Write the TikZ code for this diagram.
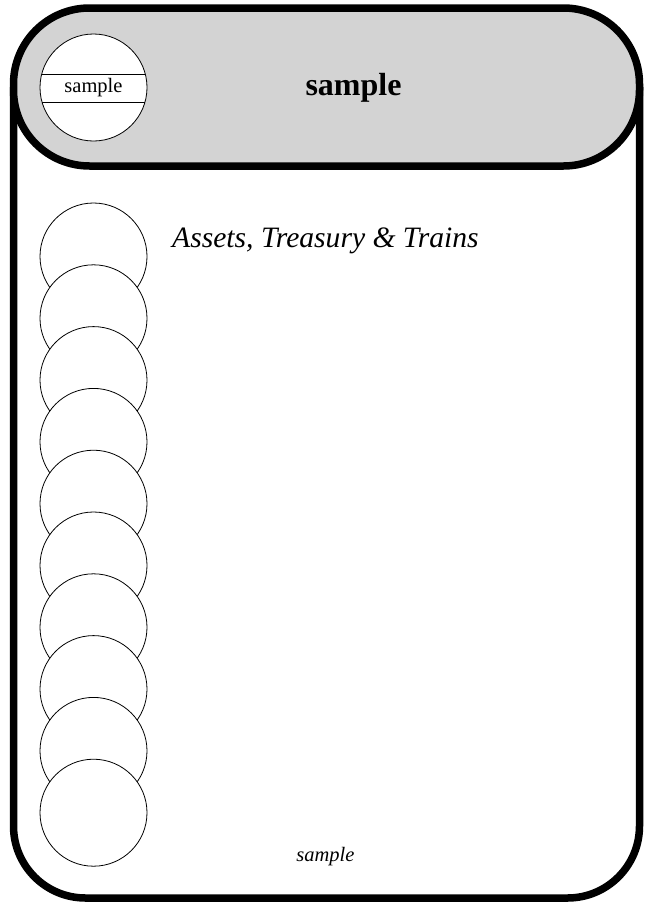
\documentclass[tikz,border=0pt]{standalone}
\usepackage{fontspec}
\setmainfont{Liberation Serif}
\usepackage{tikz}
\usetikzlibrary{positioning,calc}
\definecolor{hdrgrey}{HTML}{D3D3D3}
\tikzset{
  frame/.style={draw=black, line width=7.5pt},
  hdr/.style={frame, fill=hdrgrey, rounded corners=76pt},
  coin/.style={circle, draw=black, fill=white, line width=0.8pt,
               minimum size=107pt, inner sep=0pt},
  band/.style={rectangle, draw=black, line width=0.8pt, minimum width=120pt,
               minimum height=28pt, inner sep=0pt, font=\fontsize{20.5}{24}\selectfont},
  ttl/.style={font=\fontsize{32}{36}\selectfont\bfseries, inner sep=0pt},
  sub/.style={font=\fontsize{29.6}{34}\selectfont\itshape, inner sep=0pt},
  foot/.style={font=\fontsize{20.5}{24}\selectfont\itshape, inner sep=0pt},
}

\begin{document}
\begin{tikzpicture}[x=1pt, y=-1pt]
  \useasboundingbox (0,0) rectangle (646,902);

  % card outline, top part hidden by the header
  \draw[frame, rounded corners=72pt] (13.5,87) -- (13.5,898) -- (639.5,898) -- (639.5,87);
  \draw[hdr] (13.5,8) rectangle (639.5,166);

  % header badge
  \node[coin] (hc) at (93.5,87.5) {};
  \begin{scope}
    \clip (hc.center) circle[radius=53.5pt];
    \node[band] (hb) at (93.5,88) {sample};
  \end{scope}
  \node[ttl, anchor=base] (title) at (353.5,95) {sample};

  % stacked coins
  \foreach \i in {0,...,9}
    \node[coin] (c\i) at (93.5,256.5+61.8*\i) {};

  \node[sub, anchor=base west] (desc) at (172,247) {Assets, Treasury \& Trains};
  \node[foot, anchor=base] (note) at (325.5,861) {sample};
\end{tikzpicture}
\end{document}
